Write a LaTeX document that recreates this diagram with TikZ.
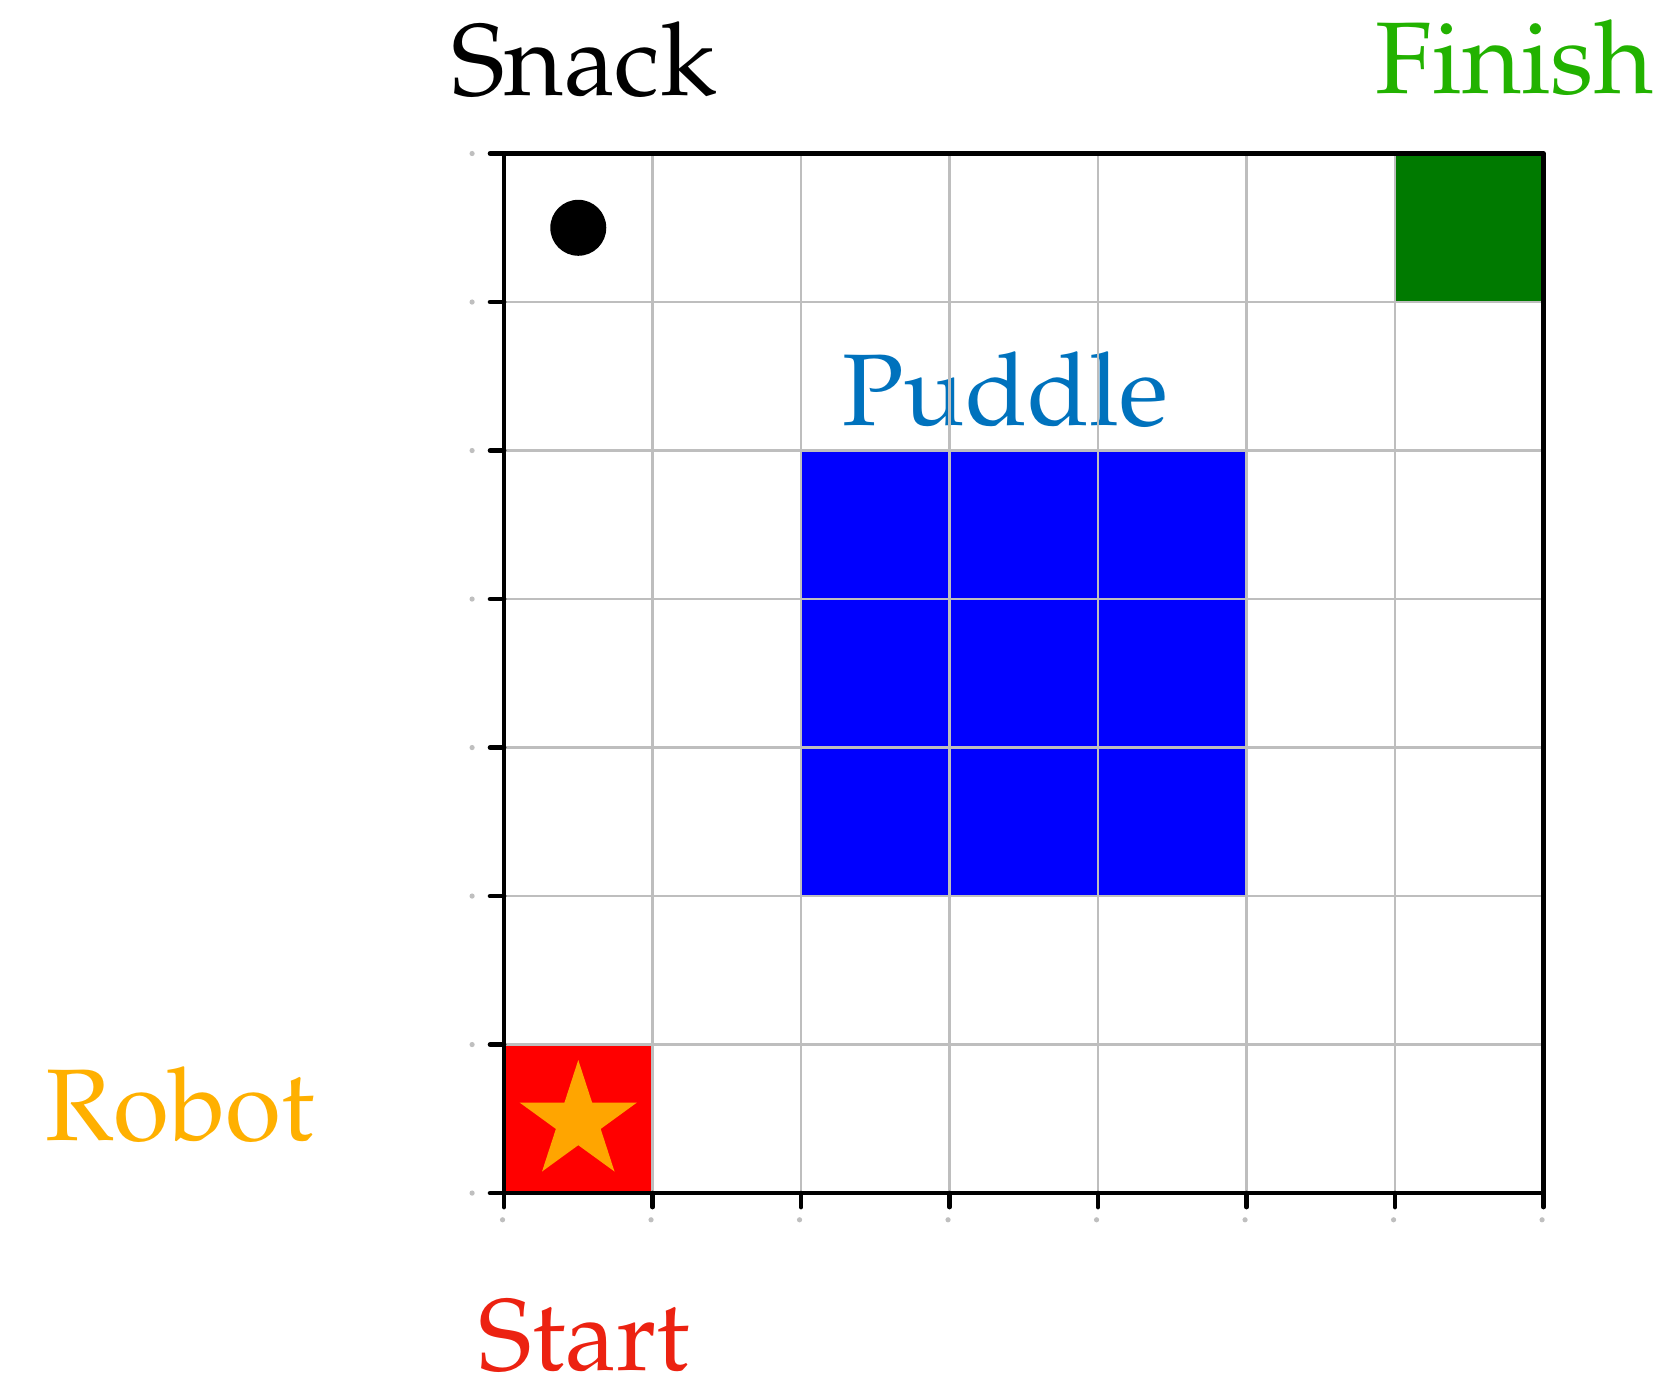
\documentclass[tikz,border=0pt]{standalone}
\usepackage[T1]{fontenc}
\usepackage{mathpazo}
\usetikzlibrary{shapes.geometric}

\definecolor{puddleblue}{RGB}{0,0,255}
\definecolor{finishgreen}{RGB}{0,122,0}
\definecolor{startred}{RGB}{255,0,0}
\definecolor{robotstar}{RGB}{255,165,0}
\definecolor{gridgray}{RGB}{190,190,190}
\definecolor{puddletext}{RGB}{0,114,189}
\definecolor{finishtext}{RGB}{34,178,0}
\definecolor{starttext}{RGB}{236,34,17}
\definecolor{robottext}{RGB}{255,176,0}

\tikzset{
  frame/.style={line width=0.9pt, black},
  label/.style={anchor=base, inner sep=0pt}
}

\begin{document}
\begin{tikzpicture}[line join=round,line cap=round,font=\fontsize{19.5}{23}\selectfont]
  \useasboundingbox (-3.394,-1.279) rectangle (7.865,8.034);

  % 1. coloured cells
  \fill[puddleblue] (2,2) rectangle (5,5);
  \fill[finishgreen] (6,6) rectangle (7,7);
  \fill[startred] (0,0) rectangle (1,1);

  % 2. puddle label (grid goes over it)
  \node[label, text=puddletext] (puddle) at (3.374,5.172) {Puddle};

  % 3. grid, frame and ticks
  \draw[gridgray, line width=0.5pt] (0,0) grid (7,7);
  \draw[frame] (0,0) rectangle (7,7);
  \foreach \k in {0,...,7} {
    \draw[frame] (0,\k) -- (-0.094,\k);
    \draw[frame] (\k,0) -- (\k,-0.094);
    \fill[gray!50] (-0.215,\k) circle (0.5pt);
    \fill[gray!50] (\k-0.01,-0.18) circle (0.5pt);
  }

  % 4. snack and robot
  \node[circle, fill=black, minimum size=0.377cm, inner sep=0pt] (snackdot) at (0.5,6.5) {};
  \node[star, star points=5, star point ratio=2.618, fill=robotstar, draw=none,
        minimum size=0.83cm, inner sep=0pt] (robotstar) at (0.5,0.481) {};

  % 5. labels
  \node[label] (snack) at (0.539,7.394) {Snack};
  \node[label, text=finishtext] (finish) at (6.805,7.407) {Finish};
  \node[label, text=robottext] (robot) at (-2.18,0.357) {Robot};
  \node[label, text=starttext] (start) at (0.539,-1.192) {Start};

\end{tikzpicture}
\end{document}
